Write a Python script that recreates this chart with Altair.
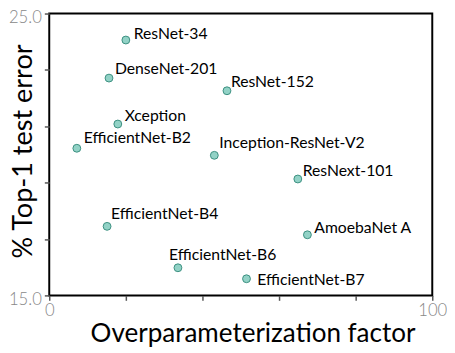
import altair as alt
import pandas as pd

models = ["ResNet-34", "DenseNet-201", "ResNet-152", "Xception", "EfficientNet-B2",
          "Inception-ResNet-V2", "ResNext-101", "EfficientNet-B4", "AmoebaNet A",
          "EfficientNet-B6", "EfficientNet-B7"]
overparam = [20.0, 15.6, 46.4, 17.9, 7.2, 43.1, 64.9, 15.1, 67.4, 33.6, 51.5]
top1_error = [24.06, 22.71, 22.26, 21.08, 20.22, 19.97, 19.13, 17.45, 17.15, 15.98, 15.59]

x_ticks = list(range(0, 101, 10))
y_ticks = list(range(15, 26, 1))

df = pd.DataFrame({"model": models, "x": overparam, "y": top1_error})

# label offsets (style only)
offsets = {
    "ResNet-34": (8, -1), "DenseNet-201": (6, -4), "ResNet-152": (4, -4),
    "Xception": (7, -3), "EfficientNet-B2": (7, -5), "Inception-ResNet-V2": (5, -7),
    "ResNext-101": (5, -3), "EfficientNet-B4": (4, -7), "AmoebaNet A": (7, -2),
    "EfficientNet-B6": (-9, -8), "EfficientNet-B7": (11, 6),
}

FONT = "Lato"

xscale = alt.Scale(domain=[0, 100], nice=False, zero=False)
yscale = alt.Scale(domain=[15, 25], nice=False, zero=False)

xenc = alt.X("x:Q", scale=xscale, axis=alt.Axis(
    title="Overparameterization factor", values=x_ticks,
    labelExpr="datum.value % 50 == 0 ? datum.label : ''",
    grid=False, domain=False, tickSize=5, tickColor="#555", tickWidth=1.5,
    labelColor="#888", labelFontSize=17, labelFont=FONT, labelFontWeight=300,
    labelPadding=2, labelFlush=False,
    titleFont=FONT, titleFontSize=26.5, titleFontWeight="normal", titleColor="black",
    titleX=207, titleY=47, titleBaseline="alphabetic", titleAlign="center"))
yenc = alt.Y("y:Q", scale=yscale, axis=alt.Axis(
    title="% Top-1 test error", values=y_ticks, format=".1f",
    labelExpr="datum.value == 15 || datum.value == 25 ? datum.label : ''",
    grid=False, domain=False, tickSize=5, tickColor="#555", tickWidth=1.5,
    labelColor="#888", labelFontSize=17, labelFont=FONT, labelFontWeight=300,
    labelPadding=3, labelFlush=False, labelOffset=4,
    titleFont=FONT, titleFontSize=27.5, titleFontWeight="normal", titleColor="black",
    titleX=-18, titleY=140, titleBaseline="alphabetic", titleAlign="center"))

points = alt.Chart(df).mark_point(
    filled=True, shape="circle", size=64, fill="#92d2c6", stroke="#3b8f80",
    strokeWidth=1, opacity=1, fillOpacity=1
).encode(x=xenc, y=yenc)

layers = [points]
for name, (dx, dy) in offsets.items():
    layers.append(
        alt.Chart(df).transform_filter(alt.datum.model == name).mark_text(
            align="left", baseline="alphabetic", dx=dx, dy=dy,
            font=FONT, fontSize=16, color="black"
        ).encode(x="x:Q", y="y:Q", text="model:N")
    )

chart = alt.layer(*layers).properties(
    width=390, height=287,
    autosize=alt.AutoSizeParams(type="none"),
    padding={"left": 42, "top": 2.5, "right": 15, "bottom": 55},
).configure_view(stroke="black", strokeWidth=2)

chart.save("out.html", embed_options={"renderer": "svg", "actions": False})
